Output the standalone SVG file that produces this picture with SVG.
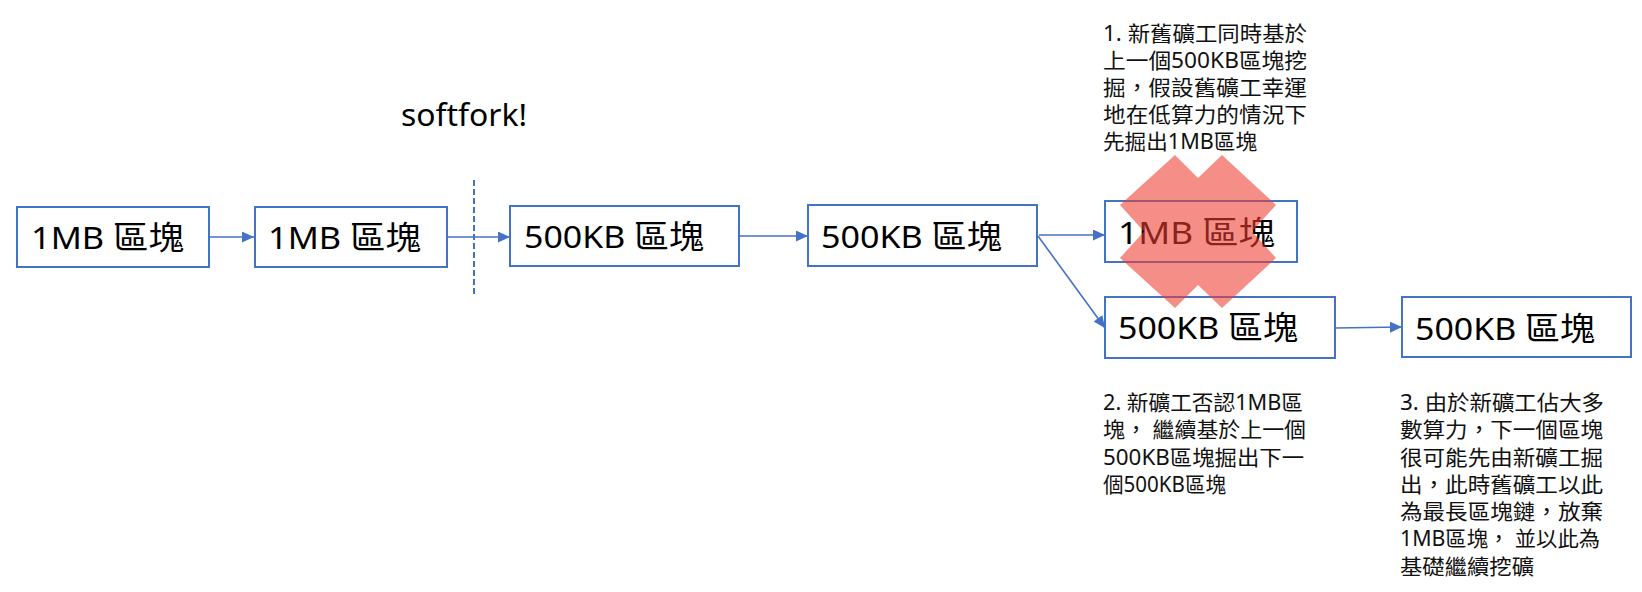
<svg xmlns="http://www.w3.org/2000/svg" width="1642" height="592" viewBox="0 0 1642 592">
<defs>
<style>
.box{fill:#fff;stroke:#4472C4;stroke-width:2}
.bt{font-family:"Noto Sans","Noto Sans CJK TC",sans-serif;font-size:31px;fill:#000}
.cj{font-family:"Noto Sans CJK TC",sans-serif;font-size:32px}
.ann{font-family:"Noto Sans","Noto Sans CJK TC",sans-serif;font-size:21px;fill:#111}
.con{stroke:#4472C4;stroke-width:1.6;fill:none;marker-end:url(#ah)}
</style>
<marker id="ah" markerUnits="userSpaceOnUse" markerWidth="12" markerHeight="11" refX="12" refY="5.5" orient="auto">
<path d="M0,0 L12,5.5 L0,11 z" fill="#4472C4"/>
</marker>
</defs>
<rect width="1642" height="592" fill="#fff"/>

<g id="connectors">
<line class="con" x1="209" y1="237" x2="254" y2="237"/>
<line class="con" x1="447" y1="237" x2="510" y2="237"/>
<line class="con" x1="739" y1="236" x2="808" y2="236"/>
<line class="con" x1="1039" y1="235" x2="1105" y2="235"/>
<line class="con" x1="1038" y1="236" x2="1105" y2="328"/>
<line class="con" x1="1335" y1="328" x2="1402" y2="327"/>
<line x1="474" y1="180" x2="474" y2="296" stroke="#4472C4" stroke-width="2" stroke-dasharray="6 3"/>
</g>

<g id="label-softfork">
<text x="401" y="126" font-family="'Noto Sans',sans-serif" font-size="31" fill="#000" textLength="126" lengthAdjust="spacingAndGlyphs">softfork!</text>
</g>

<g id="block1">
<rect class="box" x="17" y="207" width="192" height="60"/>
<text class="bt" x="31" y="249" textLength="153" lengthAdjust="spacingAndGlyphs">1MB <tspan class="cj">區塊</tspan></text>
</g>
<g id="block2">
<rect class="box" x="255" y="207" width="192" height="60"/>
<text class="bt" x="268" y="249" textLength="153" lengthAdjust="spacingAndGlyphs">1MB <tspan class="cj">區塊</tspan></text>
</g>
<g id="block3">
<rect class="box" x="510" y="206" width="229" height="60"/>
<text class="bt" x="524" y="248" textLength="180" lengthAdjust="spacingAndGlyphs">500KB <tspan class="cj">區塊</tspan></text>
</g>
<g id="block4">
<rect class="box" x="808" y="205" width="229" height="61"/>
<text class="bt" x="821" y="247.5" textLength="181" lengthAdjust="spacingAndGlyphs">500KB <tspan class="cj">區塊</tspan></text>
</g>
<g id="block5">
<rect class="box" x="1105" y="201" width="192" height="61"/>
<text class="bt" x="1118" y="243.5" textLength="157" lengthAdjust="spacingAndGlyphs">1MB <tspan class="cj">區塊</tspan></text>
</g>
<g id="block6">
<rect class="box" x="1105" y="297" width="230" height="61"/>
<text class="bt" x="1118" y="339" textLength="180" lengthAdjust="spacingAndGlyphs">500KB <tspan class="cj">區塊</tspan></text>
</g>
<g id="block7">
<rect class="box" x="1402" y="297" width="229" height="60"/>
<text class="bt" x="1415" y="339.5" textLength="180" lengthAdjust="spacingAndGlyphs">500KB <tspan class="cj">區塊</tspan></text>
</g>

<g id="cross">
<polygon points="1198,178 1222,155 1276,205 1252,231.5 1276,258 1222,308 1198,285 1175,308 1120,258 1144,231.5 1120,205 1175,155" fill="#EC3C30" fill-opacity="0.58"/>
</g>

<g id="note1">
<text class="ann" x="1103" y="41" textLength="204" lengthAdjust="spacingAndGlyphs">1. 新舊礦工同時基於</text>
<text class="ann" x="1103" y="68" textLength="204" lengthAdjust="spacingAndGlyphs">上一個500KB區塊挖</text>
<text class="ann" x="1103" y="95" textLength="204" lengthAdjust="spacingAndGlyphs">掘，假設舊礦工幸運</text>
<text class="ann" x="1103" y="122" textLength="204" lengthAdjust="spacingAndGlyphs">地在低算力的情況下</text>
<text class="ann" x="1103" y="149" textLength="154" lengthAdjust="spacingAndGlyphs">先掘出1MB區塊</text>
</g>

<g id="note2">
<text class="ann" x="1103" y="410" textLength="200" lengthAdjust="spacingAndGlyphs">2. 新礦工否認1MB區</text>
<text class="ann" x="1103" y="437" textLength="203" lengthAdjust="spacingAndGlyphs">塊， 繼續基於上一個</text>
<text class="ann" x="1103" y="465" textLength="201" lengthAdjust="spacingAndGlyphs">500KB區塊掘出下一</text>
<text class="ann" x="1103" y="492" textLength="123" lengthAdjust="spacingAndGlyphs">個500KB區塊</text>
</g>

<g id="note3">
<text class="ann" x="1400" y="410" textLength="204" lengthAdjust="spacingAndGlyphs">3. 由於新礦工佔大多</text>
<text class="ann" x="1400" y="437" textLength="203" lengthAdjust="spacingAndGlyphs">數算力，下一個區塊</text>
<text class="ann" x="1400" y="465" textLength="203" lengthAdjust="spacingAndGlyphs">很可能先由新礦工掘</text>
<text class="ann" x="1400" y="492" textLength="203" lengthAdjust="spacingAndGlyphs">出，此時舊礦工以此</text>
<text class="ann" x="1400" y="519" textLength="203" lengthAdjust="spacingAndGlyphs">為最長區塊鏈，放棄</text>
<text class="ann" x="1400" y="546" textLength="200" lengthAdjust="spacingAndGlyphs">1MB區塊， 並以此為</text>
<text class="ann" x="1400" y="574" textLength="134" lengthAdjust="spacingAndGlyphs">基礎繼續挖礦</text>
</g>
</svg>
